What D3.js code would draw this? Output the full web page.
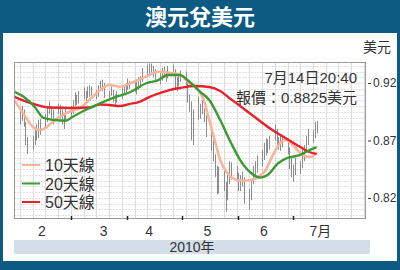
<!DOCTYPE html>
<html>
<head>
<meta charset="utf-8">
<script src="https://cdn.jsdelivr.net/npm/d3@7"></script>
<style>
  html, body { margin: 0; padding: 0; background: #0d5b83; }
  svg { display: block; }
  text { font-family: "Liberation Sans", "Noto Sans CJK TC", sans-serif; }
</style>
</head>
<body>
<svg id="chart" width="400" height="270"></svg>
<script>
// Daily AUD/USD ranges, one entry per trading day from 2010-02-01 to 2010-07-14
const highs = [
  0.899,0.900,0.897,0.886,0.873,
  0.874,0.880,0.884,0.888,0.889,
  0.893,0.900,0.904,0.900,0.897,
  0.902,0.901,0.897,0.893,0.899,
  0.900,0.905,0.912,0.910,0.913,
  0.916,0.913,0.917,0.918,0.917,
  0.914,0.918,0.922,0.923,0.920,
  0.913,0.917,0.914,0.910,0.913,
  0.916,0.918,0.920,0.924,0.922,
  0.923,0.921,0.925,0.926,0.933,
  0.936,0.937,0.937,0.935,0.932,
  0.929,0.933,0.934,0.930,0.935,
  0.936,0.932,0.925,0.928,0.931,
  0.930,0.921,0.910,0.904,0.897,
  0.908,0.902,0.905,0.898,0.892,
  0.878,0.870,0.858,0.848,0.847,
  0.845,0.834,0.840,0.852,0.851,
  0.848,0.842,0.840,0.843,0.838,
  0.828,0.835,0.848,0.852,0.857,
  0.862,0.868,0.872,0.871,0.874,
  0.884,0.880,0.873,0.875,0.875,
  0.872,0.864,0.856,0.849,0.855,
  0.852,0.862,0.866,0.874,0.880,
  0.879,0.886,0.887
];
const lows = [
  0.884,0.887,0.882,0.866,0.858,
  0.862,0.866,0.870,0.872,0.875,
  0.880,0.886,0.893,0.889,0.884,
  0.893,0.889,0.884,0.880,0.887,
  0.889,0.893,0.900,0.901,0.902,
  0.906,0.904,0.907,0.908,0.909,
  0.906,0.908,0.913,0.913,0.907,
  0.905,0.909,0.903,0.900,0.903,
  0.906,0.910,0.912,0.914,0.915,
  0.912,0.910,0.914,0.916,0.921,
  0.926,0.928,0.929,0.925,0.921,
  0.919,0.922,0.925,0.921,0.924,
  0.926,0.915,0.913,0.917,0.921,
  0.918,0.903,0.895,0.870,0.866,
  0.888,0.889,0.893,0.886,0.873,
  0.861,0.852,0.838,0.823,0.824,
  0.826,0.808,0.818,0.832,0.836,
  0.836,0.826,0.826,0.830,0.815,
  0.810,0.818,0.832,0.836,0.842,
  0.847,0.853,0.857,0.859,0.862,
  0.870,0.866,0.862,0.861,0.864,
  0.858,0.845,0.838,0.834,0.840,
  0.841,0.846,0.852,0.860,0.866,
  0.868,0.872,0.876
];

// Moving averages: [date, value]
const ma10 = [
  ["2010-01-29",0.905],["2010-02-04",0.8907],["2010-02-08",0.882],["2010-02-12",0.8791],
  ["2010-02-15",0.8809],["2010-02-19",0.8863],["2010-02-23",0.8907],["2010-02-28",0.895],
  ["2010-03-06",0.8983],["2010-03-11",0.9052],["2010-03-17",0.9139],["2010-03-22",0.9183],
  ["2010-03-28",0.9168],["2010-04-03",0.920],["2010-04-11",0.9255],["2010-04-18",0.9298],
  ["2010-04-24",0.929],["2010-04-30",0.927],["2010-05-04",0.9217],["2010-05-10",0.9139],
  ["2010-05-13",0.9052],["2010-05-16",0.8878],["2010-05-19",0.8704],["2010-05-22",0.853],
  ["2010-05-26",0.8417],["2010-05-31",0.8357],["2010-06-05",0.835],["2010-06-11",0.8374],
  ["2010-06-16",0.8443],["2010-06-20",0.8574],["2010-06-24",0.8678],["2010-06-27",0.8704],
  ["2010-07-01",0.8661],["2010-07-05",0.8591],["2010-07-09",0.8559],["2010-07-11",0.8559],
  ["2010-07-14",0.8591]
];
const ma20 = [
  ["2010-01-29",0.9124],["2010-02-03",0.908],["2010-02-09",0.8994],["2010-02-14",0.8896],
  ["2010-02-20",0.8878],["2010-02-26",0.8872],["2010-03-02",0.8907],["2010-03-09",0.8965],
  ["2010-03-17",0.9023],["2010-03-26",0.9081],["2010-04-03",0.9124],["2010-04-11",0.9196],
  ["2010-04-18",0.9226],["2010-04-23",0.927],["2010-04-30",0.927],["2010-05-04",0.9226],
  ["2010-05-11",0.9124],["2010-05-16",0.9052],["2010-05-22",0.8878],["2010-05-28",0.8678],
  ["2010-06-02",0.853],["2010-06-08",0.8417],["2010-06-13",0.8377],["2010-06-17",0.840],
  ["2010-06-23",0.8504],["2010-06-28",0.8548],["2010-07-05",0.8574],["2010-07-10",0.8617],
  ["2010-07-14",0.8643]
];
const ma50 = [
  ["2010-01-29",0.908],["2010-02-06",0.903],["2010-02-17",0.8987],["2010-03-01",0.8983],
  ["2010-03-11",0.8987],["2010-03-17",0.9013],["2010-03-22",0.9009],["2010-03-28",0.900],
  ["2010-04-02",0.9017],["2010-04-08",0.9039],["2010-04-13",0.9078],["2010-04-19",0.9113],
  ["2010-04-24",0.9139],["2010-04-30",0.9157],["2010-05-08",0.9174],["2010-05-16",0.9165],
  ["2010-05-22",0.913],["2010-05-27",0.907],["2010-06-02",0.900],["2010-06-10",0.8904],
  ["2010-06-18",0.8809],["2010-06-26",0.873],["2010-07-05",0.8643],["2010-07-10",0.860],
  ["2010-07-14",0.8583]
];

const yTicks = [0.82, 0.87, 0.92];
const monthLabels = [["2010-02-13","2"],["2010-03-19","3"],["2010-04-13","4"],
                     ["2010-05-15","5"],["2010-06-15","6"],["2010-07-16","7月"]];
const monthBoundaries = ["2010-03-01","2010-04-01","2010-05-01","2010-06-01","2010-07-01"];
const legendItems = [["10天線","#f7b59b"],["20天線","#3b9a33"],["50天線","#e6232a"]];

const parse = d3.timeParse("%Y-%m-%d");
const tradingDays = d3.timeDay.range(new Date(2010,1,1), new Date(2010,6,15))
  .filter(d => d.getDay() !== 0 && d.getDay() !== 6);
const bars = tradingDays.map((d,i) => ({date: d, high: highs[i], low: lows[i]}));

const svg = d3.select("#chart");
const W = 400, H = 270;
const plot = {left: 14, right: 366, top: 62, bottom: 219};

const x = d3.scaleTime()
  .domain([new Date(2010,0,28,17), new Date(2010,7,10,3)])
  .range([plot.left, plot.right]);
const y = d3.scaleLinear()
  .domain([0.8017, 0.9383])
  .range([plot.bottom, plot.top]);

// background frame
svg.append("rect").attr("width", W).attr("height", H).attr("fill", "#0d5b83");
svg.append("rect").attr("x", 3).attr("y", 33).attr("width", 394).attr("height", 228).attr("fill", "#fff");

svg.append("text").attr("x", 200).attr("y", 25)
  .attr("text-anchor", "middle").attr("fill", "#fff")
  .attr("font-size", 22).attr("font-weight", "bold")
  .style("font-family", "'Noto Sans CJK TC', sans-serif")
  .text("澳元兌美元");

svg.append("defs").append("clipPath").attr("id", "plotClip")
  .append("rect").attr("x", plot.left).attr("y", plot.top)
  .attr("width", plot.right - plot.left).attr("height", plot.bottom - plot.top);

// grid
const grid = svg.append("g");
grid.selectAll("line.h").data(d3.range(0.805, 0.9376, 0.005))
  .join("line").attr("class", "h")
  .attr("x1", plot.left).attr("x2", plot.right)
  .attr("y1", d => Math.round(y(d)) + 0.5).attr("y2", d => Math.round(y(d)) + 0.5)
  .attr("stroke", "#e0e0e0").attr("stroke-dasharray", "2,1");
grid.selectAll("line.v").data(d3.timeMonday.range(x.domain()[0], x.domain()[1]))
  .join("line").attr("class", "v")
  .attr("x1", d => Math.round(x(d)) + 0.5).attr("x2", d => Math.round(x(d)) + 0.5)
  .attr("y1", plot.top).attr("y2", plot.bottom)
  .attr("stroke", "#dcdcdc");

// daily range bars
svg.append("g").attr("clip-path", "url(#plotClip)")
  .selectAll("line").data(bars).join("line")
  .attr("x1", d => Math.round(x(d.date)) + 0.5).attr("x2", d => Math.round(x(d.date)) + 0.5)
  .attr("y1", d => y(d.high)).attr("y2", d => y(d.low))
  .attr("stroke", "#8c8c8c").attr("stroke-width", 1);

// moving averages
const line = d3.line().curve(d3.curveMonotoneX)
  .x(d => x(parse(d[0]))).y(d => y(d[1]));
const maG = svg.append("g").attr("clip-path", "url(#plotClip)").attr("fill", "none");
maG.append("path").attr("d", line(ma10)).attr("stroke", legendItems[0][1]).attr("stroke-width", 2.6);
maG.append("path").attr("d", line(ma50)).attr("stroke", legendItems[2][1]).attr("stroke-width", 2.4);
maG.append("path").attr("d", line(ma20)).attr("stroke", legendItems[1][1]).attr("stroke-width", 2.4);

// plot frame
svg.append("rect").attr("x", plot.left + 0.5).attr("y", plot.top + 0.5)
  .attr("width", plot.right - plot.left - 1).attr("height", plot.bottom - plot.top - 1)
  .attr("fill", "none").attr("stroke", "#9a9a9a");

// month boundary ticks
svg.append("g").selectAll("line").data(monthBoundaries).join("line")
  .attr("x1", d => Math.round(x(parse(d))) + 0.5).attr("x2", d => Math.round(x(parse(d))) + 0.5)
  .attr("y1", plot.bottom - 3).attr("y2", plot.bottom + 1)
  .attr("stroke", "#222").attr("stroke-width", 1.5);

// month labels
svg.append("g").selectAll("text").data(monthLabels).join("text")
  .attr("x", d => x(parse(d[0]))).attr("y", 236)
  .attr("text-anchor", "middle").attr("font-size", 14).attr("fill", "#333")
  .text(d => d[1]);

// year band
svg.append("rect").attr("x", plot.left).attr("y", 240).attr("width", 356).attr("height", 14)
  .attr("fill", "#d3dee8");
svg.append("text").attr("x", 192).attr("y", 252).attr("text-anchor", "middle")
  .attr("font-size", 14).attr("fill", "#333").text("2010年");

// right value axis
const yAxis = d3.axisRight(y).tickValues(yTicks).tickSize(3).tickPadding(2)
  .tickFormat(d3.format(".2f"));
const ya = svg.append("g").attr("transform", `translate(${plot.right + 2},0)`).call(yAxis);
ya.select(".domain").remove();
ya.selectAll(".tick line").attr("stroke", "#333");
ya.selectAll(".tick text").attr("font-size", 12).attr("fill", "#333")
  .style("font-family", "'Liberation Sans', sans-serif");

svg.append("text").attr("x", 391).attr("y", 52).attr("text-anchor", "end")
  .attr("font-size", 14).attr("fill", "#333").text("美元");

// quote annotation
svg.append("text").attr("x", 357).attr("y", 83).attr("text-anchor", "end")
  .attr("font-size", 15).attr("fill", "#333").text("7月14日20:40");
svg.append("text").attr("x", 357).attr("y", 103).attr("text-anchor", "end")
  .attr("font-size", 15).attr("fill", "#333").text("報價：0.8825美元");

// legend
const lg = svg.append("g").selectAll("g").data(legendItems).join("g")
  .attr("transform", (d,i) => `translate(22,${165 + i * 18.5})`);
lg.append("line").attr("x1", 0).attr("x2", 18).attr("stroke", d => d[1]).attr("stroke-width", 2);
lg.append("text").attr("x", 23).attr("y", 6).attr("font-size", 16).attr("fill", "#333")
  .text(d => d[0]);
</script>
</body>
</html>
